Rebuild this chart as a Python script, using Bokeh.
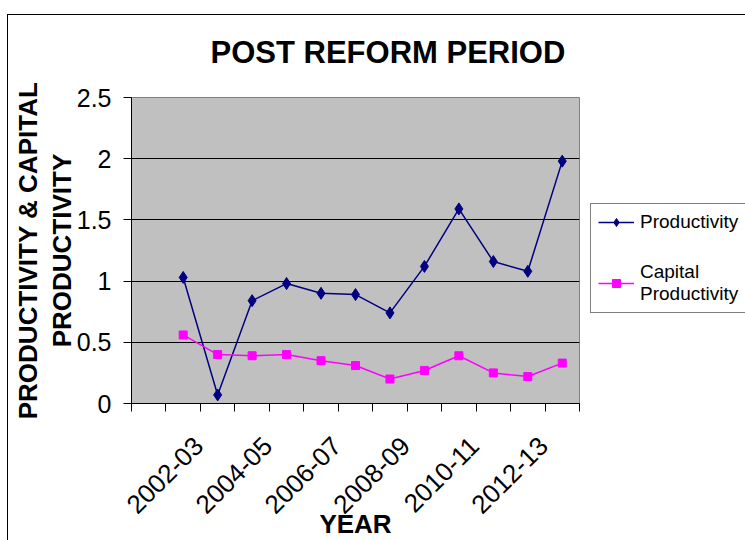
import numpy as np
from bokeh.plotting import figure
from bokeh.models import (Range1d, FixedTicker, Legend, LegendItem,
                          CustomJSTickFormatter, InlineStyleSheet)
from bokeh.embed import file_html
from bokeh.resources import INLINE

# ---- data ----
years = ["2002-03", "2003-04", "2004-05", "2005-06", "2006-07", "2007-08",
         "2008-09", "2009-10", "2010-11", "2011-12", "2012-13", "2013-14"]
productivity = [1.03, 0.07, 0.84, 0.98, 0.90, 0.89, 0.74, 1.12, 1.59, 1.16, 1.08, 1.98]
capital_productivity = [0.56, 0.40, 0.39, 0.40, 0.35, 0.31, 0.20, 0.27, 0.39, 0.25, 0.22, 0.33]
y_ticks = [0, 0.5, 1, 1.5, 2, 2.5]
y_tick_labels = ["0", "0.5", "1", "1.5", "2", "2.5"]

FONT = "Liberation Sans"
first_slot = 2                     # category axis has one empty leading slot
n_slots = len(years) + 1
x = [first_slot + i for i in range(len(years))]
label_shift = 0.45                 # Excel anchors the rotated labels a bit right of the slot

p = figure(frame_width=448, frame_height=306, output_backend="svg", toolbar_location=None,
           x_range=Range1d(0.5, n_slots + 0.5), y_range=Range1d(0, 2.5),
           min_border_left=131, min_border_right=166, min_border_top=97,
           min_border_bottom=137)

p.background_fill_color = "#C0C0C0"
p.border_fill_color = "white"
p.outline_line_color = "#808080"
p.outline_line_width = 1

# outer chart-area border (top and left edges visible, the rest is cropped)
p.stylesheets = [InlineStyleSheet(css="""
:host::after { content: ""; position: absolute; left: 7px; top: 14px; right: 0px; bottom: 0px;
  border-left: 1px solid black; border-top: 1px solid black; pointer-events: none; }
""")]

# title
p.title.text = "POST REFORM PERIOD"
p.title.text_font = FONT
p.title.text_font_size = "31px"
p.title.text_font_style = "bold"
p.title.text_color = "black"
p.title.align = "left"
p.title.offset = 79
p.title.standoff = 56

# grid
p.xgrid.visible = False
p.ygrid.ticker = FixedTicker(ticks=y_ticks[1:-1])
p.ygrid.grid_line_color = "black"
p.ygrid.grid_line_width = 1

# y axis
ya = p.yaxis[0]
ya.ticker = FixedTicker(ticks=y_ticks)
ya.major_label_overrides = {t: s for t, s in zip(y_ticks, y_tick_labels)}
ya.major_label_text_font = FONT
ya.major_label_text_font_size = "25px"
ya.major_label_text_color = "black"
ya.major_tick_out = 8
ya.major_tick_in = 0
ya.major_tick_line_color = "black"
ya.minor_tick_line_color = None
ya.major_label_standoff = 12
ya.axis_line_color = "black"
ya.axis_label = "PRODUCTIVITY & CAPITAL\nPRODUCTIVITY"
ya.axis_label_text_font = FONT
ya.axis_label_text_font_size = "26px"
ya.axis_label_text_font_style = "bold"
ya.axis_label_text_color = "black"
ya.axis_label_text_line_height = 1.12
ya.axis_label_standoff = -3

# x axis
xa = p.xaxis[0]
label_ticks = [first_slot + i + label_shift for i in range(0, len(years), 2)]
slot_edges = [k + 0.5 for k in range(0, n_slots + 1)]
xa.ticker = FixedTicker(ticks=label_ticks, minor_ticks=slot_edges)
xa.formatter = CustomJSTickFormatter(args=dict(labels=years, first=first_slot, shift=label_shift),
                                     code="""
const i = Math.round(tick - shift) - first;
return (i >= 0 && i < labels.length) ? labels[i] : "";
""")
xa.major_tick_line_color = None
xa.major_tick_out = 0
xa.major_tick_in = 0
xa.minor_tick_line_color = "black"
xa.minor_tick_out = 8
xa.minor_tick_in = 0
xa.major_label_orientation = np.pi / 4
xa.major_label_standoff = 30
xa.major_label_text_font = FONT
xa.major_label_text_font_size = "26px"
xa.major_label_text_color = "black"
xa.axis_line_color = "black"
xa.axis_label = "YEAR"
xa.axis_label_text_font = FONT
xa.axis_label_text_font_size = "26px"
xa.axis_label_text_font_style = "bold"
xa.axis_label_text_color = "black"
xa.axis_label_standoff = -16

# series
l1 = p.line(x, productivity, line_color="#000080", line_width=1.5)
m1 = p.scatter(x, productivity, marker="diamond", size=12, fill_color="#000080",
               line_color="#000080")
l2 = p.line(x, capital_productivity, line_color="#FF00FF", line_width=1.5)
m2 = p.scatter(x, capital_productivity, marker="square", size=8, fill_color="#FF00FF",
               line_color="#FF00FF")

legend = Legend(items=[LegendItem(label="Productivity", renderers=[l1, m1]),
                       LegendItem(label="Capital\nProductivity", renderers=[l2, m2])],
                location=(11, 90))
legend.border_line_color = "black"
legend.border_line_width = 1
legend.background_fill_color = "white"
legend.background_fill_alpha = 1
legend.label_text_font = FONT
legend.label_text_font_size = "19px"
legend.label_text_color = "black"
legend.glyph_width = 36
legend.glyph_height = 20
legend.label_height = 20
legend.label_standoff = 6
legend.padding = 7
legend.spacing = 28
legend.margin = 0
p.add_layout(legend, "right")

open("out.html", "w").write(file_html(p, INLINE))
